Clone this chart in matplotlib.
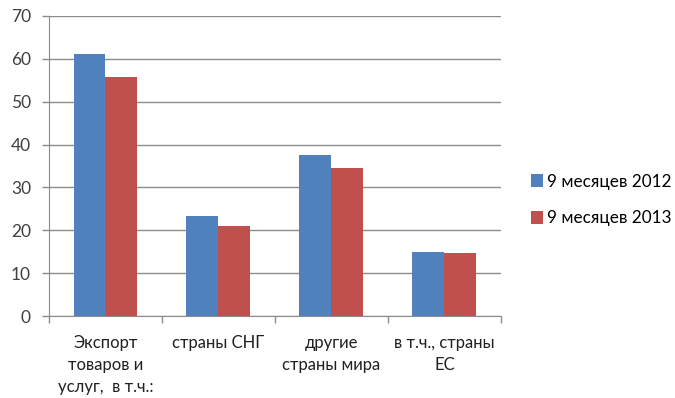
import matplotlib
matplotlib.use("Agg")
import matplotlib.pyplot as plt
import numpy as np

categories = ["Экспорт\nтоваров и\nуслуг,  в т.ч.:", "страны СНГ", "другие\nстраны мира", "в т.ч., страны\nЕС"]
series_names = ["9 месяцев 2012", "9 месяцев 2013"]
values_2012 = [61.1, 23.3, 37.6, 15.0]
values_2013 = [55.8, 21.1, 34.5, 14.6]
y_ticks = [0, 10, 20, 30, 40, 50, 60, 70]

colors = ["#4F81BD", "#C0504D"]
grid_color = "#8C8C8C"

plt.rcParams["font.family"] = ["Lato", "DejaVu Sans"]

fig = plt.figure(figsize=(6.75, 3.98), dpi=100)
ax = fig.add_axes([0.0726, 0.206, 0.6695, 0.754])

x = np.arange(len(categories))
w = 0.283
ax.bar(x - w / 2, values_2012, width=w, color=colors[0], zorder=3, label=series_names[0])
ax.bar(x + w / 2, values_2013, width=w, color=colors[1], zorder=3, label=series_names[1])

ax.set_xlim(-0.5, len(categories) - 0.5)
ax.set_ylim(0, 70)
ax.set_yticks(y_ticks)
ax.set_yticklabels([str(v) for v in y_ticks], fontsize=12.5, color="#404040")
ax.yaxis.grid(True, color=grid_color, linewidth=1.0, zorder=0)
ax.set_axisbelow(True)

ax.set_xticks(x)
ax.set_xticklabels(categories, fontsize=12, color="#202020", linespacing=1.45)
ax.set_xticks(np.arange(len(categories) + 1) - 0.5, minor=True)
ax.tick_params(axis="x", which="major", length=0, pad=14)
ax.tick_params(axis="x", which="minor", length=5, color=grid_color, width=1.0)
ax.tick_params(axis="y", length=5, color=grid_color, width=1.0, pad=8)

for side in ["top", "right"]:
    ax.spines[side].set_visible(False)
ax.spines["left"].set_color(grid_color)
ax.spines["bottom"].set_color(grid_color)

fig.legend(loc="center left", bbox_to_anchor=(0.787, 0.498), frameon=False,
           fontsize=12.3, handlelength=0.7, handleheight=0.8, handletextpad=0.25,
           labelspacing=1.2, borderaxespad=0.0, borderpad=0.0)

fig.savefig("out.png", dpi=100, facecolor="white")
